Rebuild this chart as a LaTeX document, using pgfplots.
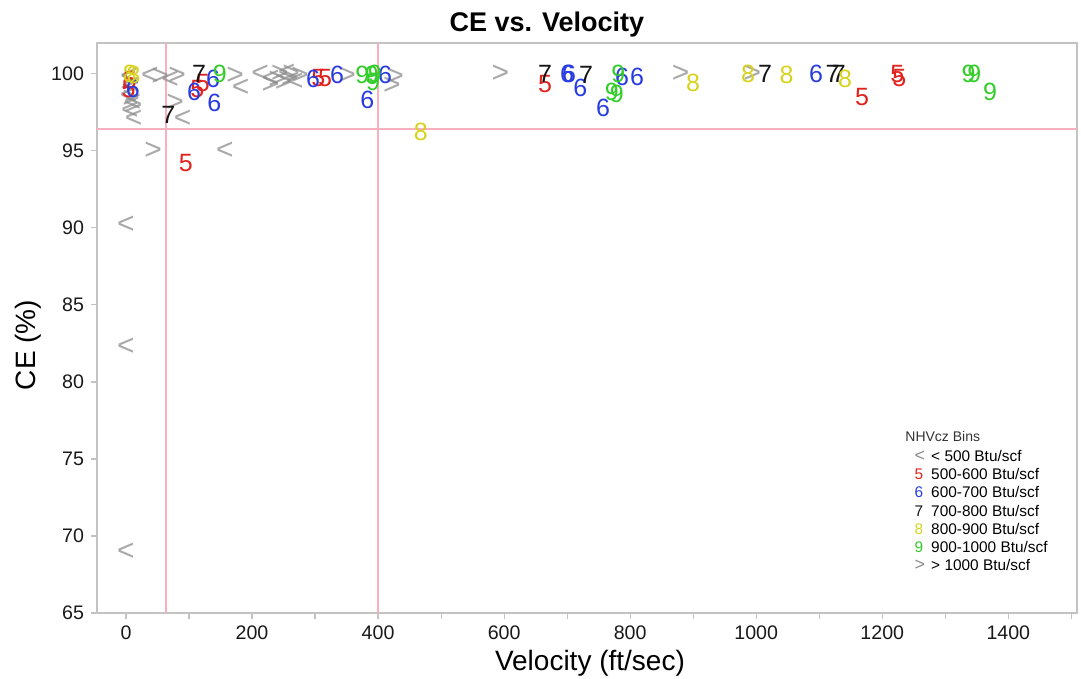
\documentclass[border=0pt]{standalone}
\usepackage{fontspec}
\setmainfont{Liberation Sans}
\usepackage{pgfplots}
\pgfplotsset{compat=1.18}
\definecolor{c5}{RGB}{225,35,30}
\definecolor{c6}{RGB}{40,60,225}
\definecolor{c7}{RGB}{20,20,20}
\definecolor{c8}{RGB}{215,210,30}
\definecolor{c9}{RGB}{50,205,40}
\definecolor{cg}{RGB}{140,140,140}
\definecolor{refl}{RGB}{250,175,190}
\definecolor{axc}{RGB}{195,195,195}
\pgfplotsset{
  digit/.style={only marks, mark=text, text mark={#1}, text mark as node=true},
}
\newcommand{\mkfont}{\fontsize{12.5}{12.5}\selectfont}
\newcommand{\chfont}{\fontsize{15}{15}\selectfont}
\begin{document}
\begin{tikzpicture}
\begin{axis}[
  at={(0,0)}, anchor=south west,
  scale only axis, width=490pt, height=285pt,
  xmin=-46, xmax=1509, ymin=65, ymax=102,
  axis line style={axc, line width=0.6pt},
  tick pos=left, tick align=outside,
  major tick length=3pt, minor tick length=3pt,
  tick style={axc, line width=0.6pt},
  xtick={0,200,...,1400}, minor xtick={100,300,...,1500},
  ytick={65,70,...,100},
  /pgf/number format/assume math mode=true,
  /pgf/number format/set thousands separator={},
  ticklabel style={font=\fontsize{9.8}{10}\selectfont, text=black!90},
  xlabel={Velocity (ft/sec)}, ylabel={CE (\%)},
  xlabel style={font=\fontsize{14}{14}\selectfont, at={(axis description cs:0.503,0)}, anchor=base, yshift=-29pt},
  ylabel style={font=\fontsize{14}{14}\selectfont, at={(axis description cs:-0.0704,0.47)}, anchor=center, rotate=0},
  title={\textbf{CE vs. Velocity}},
  title style={font=\fontsize{13.5}{13.5}\selectfont, at={(axis description cs:0.459,1)}, anchor=base, yshift=-0.5pt},
  clip=false,
  legend style={draw=none, fill=none, at={(axis description cs:0.834,0.2895)}, anchor=north west,
    font=\fontsize{7.7}{9}\selectfont, inner sep=0pt, row sep=0pt, column sep=2pt,
    nodes={inner sep=1pt, text height=5.6pt, text depth=1.5pt}},
  legend cell align=left,
]
% reference lines
\addplot[refl, line width=0.8pt, forget plot] coordinates {(63.5,65) (63.5,102)};
\addplot[refl, line width=0.8pt, forget plot] coordinates {(400,65) (400,102)};
\addplot[refl, line width=0.8pt, forget plot] coordinates {(-46,96.43) (1509,96.43)};
% < 500
\addplot[digit={<}, text mark style={font=\chfont, text=cg, opacity=0.75, inner sep=0pt}, forget plot] table {
x y
0 90.2
0 82.3
0 69.0
157 95.0
90 97.1
213 100.0
182 99.1
38 99.9
5 99.8
8 99.2
4 98.6
10 98.1
6 97.6
12 97.1
70 99.6
230 99.7
255 100.1
268 99.5
};
% > 1000
\addplot[digit={>}, text mark style={font=\chfont, text=cg, opacity=0.75, inner sep=0pt}, forget plot] table {
x y
43 95.0
594 100.0
880 100.0
994 100.0
427 99.8
422 99.2
351 99.9
81 99.9
54 99.8
78 98.1
173 99.9
229 99.3
240 99.6
250 99.4
260 99.7
244 100.0
262 100.0
276 99.9
5 99.4
8 98.4
12 97.9
};
% 500-600
\addplot[digit={5}, text mark style={font=\mkfont, text=c5, inner sep=0pt}, forget plot] table {
x y
95 94.2
6 99.6
4 99.0
122 99.4
113 99.0
305 99.7
316 99.7
665 99.35
1168 98.5
1224 100.0
1227 99.7
};
% 600-700
\addplot[digit={6}, text mark style={font=\mkfont, text=c6, inner sep=0pt}, forget plot] table {
x y
11 99.0
108 98.8
138 99.7
140 98.1
297 99.7
335 99.9
383 98.3
411 99.9
700 100.0
703 100.0
721 99.1
787 99.8
811 99.8
757 97.8
1095 100.0
};
% 700-800
\addplot[digit={7}, text mark style={font=\mkfont, text=c7, inner sep=0pt}, forget plot] table {
x y
116 100.0
67 97.3
665 100.0
730 99.9
1014 100.0
1121 100.0
1131 100.0
};
% 800-900
\addplot[digit={8}, text mark style={font=\mkfont, text=c8, inner sep=0pt}, forget plot] table {
x y
6 100.0
12 99.9
468 96.2
900 99.4
987 100.0
1048 99.9
1141 99.7
};
% 900-1000
\addplot[digit={9}, text mark style={font=\mkfont, text=c9, inner sep=0pt}, forget plot] table {
x y
149 100.0
375 99.9
390 99.9
392 99.5
395 100.0
781 100.0
771 98.8
779 98.7
1337 100.0
1346 100.0
1371 98.8
};
% legend
\addlegendimage{legend image code/.code={\node[inner sep=0pt, text=cg, font=\fontsize{9}{9}\selectfont] at (0,0) {<};}}
\addlegendentry{< 500 Btu/scf}
\addlegendimage{legend image code/.code={\node[inner sep=0pt, text=c5, font=\fontsize{7.7}{7.7}\selectfont] at (0,0) {5};}}
\addlegendentry{500-600 Btu/scf}
\addlegendimage{legend image code/.code={\node[inner sep=0pt, text=c6, font=\fontsize{7.7}{7.7}\selectfont] at (0,0) {6};}}
\addlegendentry{600-700 Btu/scf}
\addlegendimage{legend image code/.code={\node[inner sep=0pt, text=c7, font=\fontsize{7.7}{7.7}\selectfont] at (0,0) {7};}}
\addlegendentry{700-800 Btu/scf}
\addlegendimage{legend image code/.code={\node[inner sep=0pt, text=c8, font=\fontsize{7.7}{7.7}\selectfont] at (0,0) {8};}}
\addlegendentry{800-900 Btu/scf}
\addlegendimage{legend image code/.code={\node[inner sep=0pt, text=c9, font=\fontsize{7.7}{7.7}\selectfont] at (0,0) {9};}}
\addlegendentry{900-1000 Btu/scf}
\addlegendimage{legend image code/.code={\node[inner sep=0pt, text=cg, font=\fontsize{9}{9}\selectfont] at (0,0) {>};}}
\addlegendentry{> 1000 Btu/scf}
\node[anchor=base west, inner sep=0pt, font=\fontsize{7}{7}\selectfont, text=black!80] at (rel axis cs:0.8245,0.300) {NHVcz Bins};
\end{axis}
\pgfresetboundingbox
\useasboundingbox (-48.5pt,-33pt) rectangle (492pt,306.5pt);
\end{tikzpicture}
\end{document}
